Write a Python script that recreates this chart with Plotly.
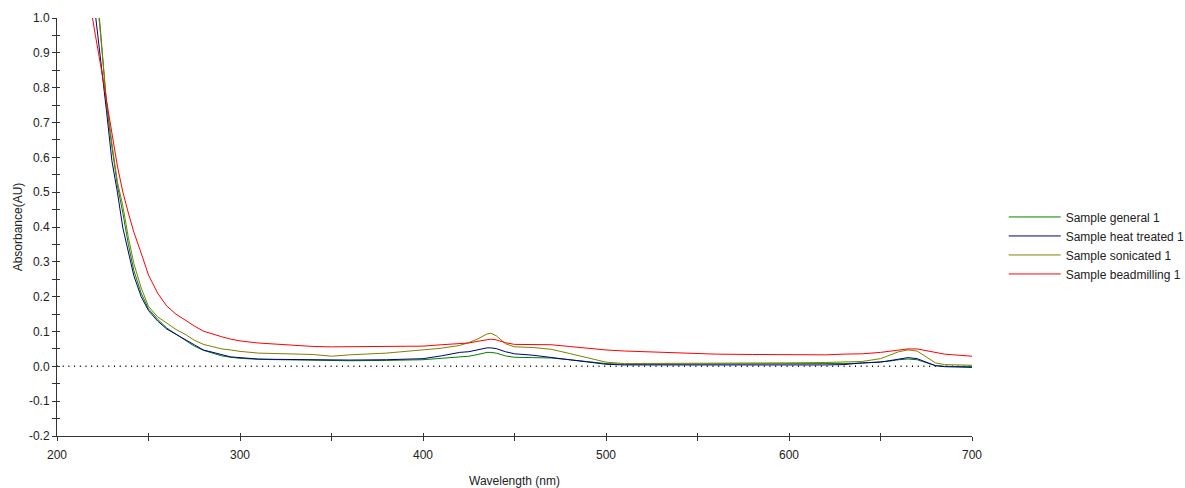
import plotly.graph_objects as go

wavelength = [214, 218, 221, 224, 227, 230, 233, 236, 239, 242, 246, 250, 255, 260, 265, 270, 275, 280, 285, 290, 295, 300,
              310, 320, 340, 350, 360, 380, 400, 410, 420, 425, 430, 435, 437, 440, 445, 450, 460, 470, 480, 490, 500,
              510, 520, 540, 560, 580, 600, 620, 630, 640, 650, 655, 660, 665, 670, 675, 680, 685, 690, 700]

general = [1.50, 1.30, 1.13, 0.95, 0.755, 0.63, 0.52, 0.44, 0.35, 0.275, 0.21, 0.165, 0.135, 0.11, 0.092, 0.075, 0.058, 0.046, 0.037, 0.030, 0.026, 0.023,
           0.020, 0.019, 0.017, 0.016, 0.016, 0.017, 0.019, 0.023, 0.028, 0.029, 0.034, 0.040, 0.040, 0.038, 0.030, 0.026, 0.025, 0.024, 0.019, 0.013, 0.008,
           0.006, 0.006, 0.006, 0.006, 0.006, 0.006, 0.007, 0.008, 0.009, 0.012, 0.015, 0.019, 0.021, 0.019, 0.010, 0.002, 0.000, 0.000, -0.001]

heat_treated = [1.33, 1.15, 1.015, 0.87, 0.735, 0.59, 0.50, 0.397, 0.33, 0.26, 0.20, 0.16, 0.13, 0.107, 0.092, 0.078, 0.062, 0.047, 0.040, 0.032, 0.027, 0.025,
                0.021, 0.020, 0.019, 0.018, 0.018, 0.019, 0.022, 0.030, 0.040, 0.042, 0.048, 0.053, 0.053, 0.051, 0.042, 0.036, 0.032, 0.026, 0.020, 0.013, 0.006,
                0.004, 0.004, 0.004, 0.003, 0.002, 0.002, 0.004, 0.005, 0.010, 0.012, 0.016, 0.021, 0.025, 0.022, 0.012, 0.002, -0.001, -0.002, -0.003]

sonicated = [1.48, 1.28, 1.11, 0.94, 0.764, 0.64, 0.53, 0.46, 0.37, 0.295, 0.225, 0.172, 0.142, 0.124, 0.106, 0.092, 0.075, 0.063, 0.056, 0.050, 0.047, 0.043,
             0.038, 0.037, 0.034, 0.029, 0.033, 0.038, 0.046, 0.052, 0.060, 0.068, 0.079, 0.093, 0.095, 0.088, 0.065, 0.056, 0.054, 0.049, 0.037, 0.024, 0.012,
             0.008, 0.008, 0.008, 0.009, 0.010, 0.010, 0.011, 0.012, 0.014, 0.022, 0.032, 0.042, 0.047, 0.044, 0.027, 0.010, 0.005, 0.004, 0.003]

beadmilling = [1.17, 1.04, 0.95, 0.86, 0.76, 0.67, 0.575, 0.50, 0.44, 0.385, 0.325, 0.262, 0.21, 0.173, 0.150, 0.132, 0.116, 0.101, 0.092, 0.085, 0.078, 0.073,
               0.067, 0.063, 0.057, 0.056, 0.056, 0.056, 0.058, 0.062, 0.066, 0.067, 0.072, 0.077, 0.078, 0.076, 0.068, 0.063, 0.063, 0.062, 0.057, 0.051, 0.047,
               0.044, 0.042, 0.037, 0.035, 0.034, 0.033, 0.033, 0.035, 0.036, 0.040, 0.044, 0.048, 0.050, 0.050, 0.045, 0.039, 0.035, 0.033, 0.029]

series_names = ["Sample general 1", "Sample heat treated 1", "Sample sonicated 1", "Sample beadmilling 1"]
series_values = [general, heat_treated, sonicated, beadmilling]
series_colors = ["#008000", "#000080", "#808000", "#FF0000"]

x_ticks = [200, 300, 400, 500, 600, 700]
y_ticks = [-0.2, -0.1, 0.0, 0.1, 0.2, 0.3, 0.4, 0.5, 0.6, 0.7, 0.8, 0.9, 1.0]

fig = go.Figure()
for i, (name, vals, col) in enumerate(zip(series_names, series_values, series_colors)):
    # last series sits on the overlay axes (identical ranges) that draw the inward half of the crossing ticks
    axes = dict(xaxis="x2", yaxis="y2") if i == len(series_names) - 1 else {}
    fig.add_trace(go.Scatter(x=wavelength, y=vals, mode="lines", name=name,
                             line=dict(color=col, width=1), **axes))

font_family = "Liberation Sans, Arial, sans-serif"
axis_common = dict(showgrid=False, zeroline=False, linecolor="#333333", linewidth=1, automargin=False,
                   tickcolor="#333333", tickfont=dict(family=font_family, size=12, color="#222222"))

fig.update_layout(
    width=1185, height=488,
    margin=dict(l=57, r=213, t=18, b=52),
    paper_bgcolor="white", plot_bgcolor="white",
    font=dict(family=font_family, size=12, color="#222222"),
    xaxis=dict(range=[200, 700], tickvals=x_ticks, ticktext=[str(v) for v in x_ticks],
               ticks="outside", ticklen=4, showline=True, ticklabelstandoff=4,
               minor=dict(dtick=50, tick0=200, ticks="outside", ticklen=4, tickcolor="#333333"),
               title=dict(text="Wavelength (nm)", font=dict(size=12), standoff=15), **axis_common),
    yaxis=dict(range=[-0.2, 1.0], tickvals=y_ticks, ticktext=[f"{v:.1f}" for v in y_ticks],
               ticks="outside", ticklen=4, showline=True,
               minor=dict(dtick=0.05, tick0=0, ticks="outside", ticklen=4, tickcolor="#333333"),
               title=dict(text="Absorbance(AU)", font=dict(size=12), standoff=3), **axis_common),
    xaxis2=dict(range=[200, 700], overlaying="x", tickvals=[200, 250, 300, 350, 400, 450, 500, 550, 600, 650, 700],
                ticks="inside", ticklen=3, tickcolor="#333333", showticklabels=False, showgrid=False,
                zeroline=False, showline=False, automargin=False),
    yaxis2=dict(range=[-0.2, 1.0], overlaying="y", dtick=0.05, tick0=0,
                ticks="inside", ticklen=3, tickcolor="#333333", showticklabels=False, showgrid=False,
                zeroline=False, showline=False, automargin=False),
    legend=dict(xref="container", yref="container", x=0.847, xanchor="left", y=0.497, yanchor="middle",
                itemwidth=52, font=dict(family=font_family, size=12, color="#222222"),
                bgcolor="rgba(0,0,0,0)"),
    shapes=[dict(type="line", xref="x", yref="y", x0=200, x1=700, y0=0, y1=0,
                 line=dict(color="black", width=1.5, dash="1px,4.7px"), layer="below")],
)

fig.write_html("out.html")
